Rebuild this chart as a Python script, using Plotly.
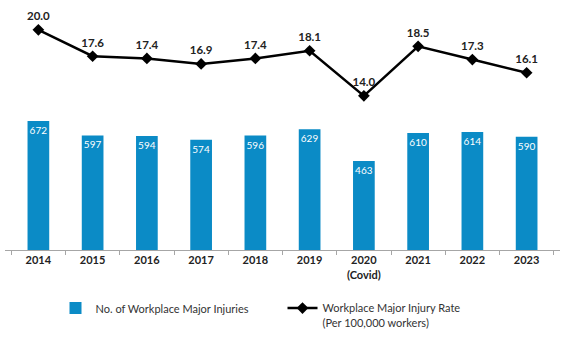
import plotly.graph_objects as go

years = ["2014", "2015", "2016", "2017", "2018", "2019", "2020<br>(Covid)", "2021", "2022", "2023"]
injuries = [672, 597, 594, 574, 596, 629, 463, 610, 614, 590]
rate = [20.0, 17.6, 17.4, 16.9, 17.4, 18.1, 14.0, 18.5, 17.3, 16.1]

bar_name = "No. of Workplace Major Injuries"
line_name = "Workplace Major Injury Rate<br>(Per 100,000 workers)"

fig = go.Figure()
fig.add_trace(go.Bar(
    x=years, y=injuries, name=bar_name,
    marker=dict(color="#0b8bc6", line=dict(width=0)),
    width=0.4,
    text=[str(v) for v in injuries], textposition="inside", insidetextanchor="end",
    textangle=0,
    textfont=dict(color="white", size=10, family="Lato"),
    constraintext="none",
    legend="legend",
))
fig.add_trace(go.Scatter(
    x=years, y=rate, name=line_name, yaxis="y2",
    mode="lines+markers+text",
    line=dict(color="black", width=2.5),
    marker=dict(symbol="diamond", size=9, color="black"),
    text=[f"{v:.1f}" for v in rate], textposition="top center",
    textfont=dict(color="#222", size=11.5, family="Lato", weight="bold"),
    cliponaxis=False,
    legend="legend2",
))

legend_font = dict(size=11, color="#333", family="Lato")
fig.update_layout(
    width=580, height=339,
    margin=dict(l=5, r=20, t=10, b=89, autoexpand=False),
    paper_bgcolor="white", plot_bgcolor="white",
    font=dict(family="Lato", color="#333"),
    showlegend=True,
    legend=dict(orientation="h", x=0.091, y=-0.185, xanchor="left", yanchor="top",
                font=legend_font, itemwidth=30, valign="top", bgcolor="rgba(0,0,0,0)"),
    legend2=dict(orientation="h", x=0.5, y=-0.185, xanchor="left", yanchor="top",
                 font=legend_font, itemwidth=30, valign="top", bgcolor="rgba(0,0,0,0)"),
    xaxis=dict(showline=True, linecolor="#a6a6a6", linewidth=1,
               ticks="outside", tickson="boundaries", ticklen=4, tickcolor="#a6a6a6",
               tickfont=dict(size=11, color="#222", family="Lato", weight="bold"),
               showgrid=False),
    yaxis=dict(range=[0, 1250], visible=False, showgrid=False),
    yaxis2=dict(range=[0, 21.8], overlaying="y", visible=False, showgrid=False),
)

fig.write_html("out.html")
